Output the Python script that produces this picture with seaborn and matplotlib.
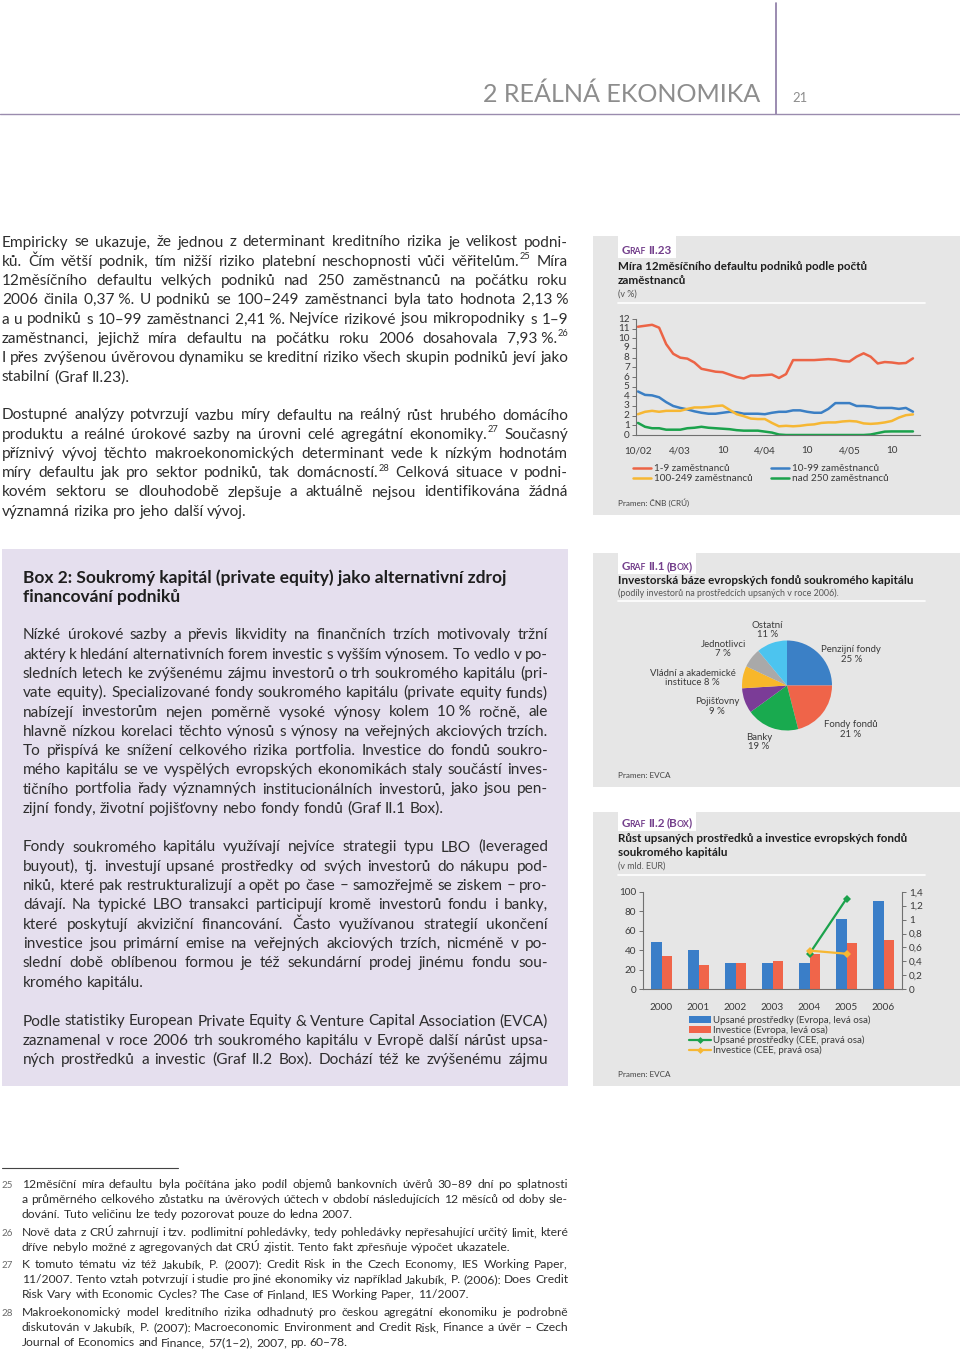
import numpy as np
import pandas as pd
import matplotlib
matplotlib.use("Agg")
import matplotlib.pyplot as plt
import seaborn as sns
from matplotlib.patches import Rectangle, Patch
from matplotlib.lines import Line2D

# ---------------------------------------------------------------- DATA
line_series = ["1-9 zaměstnanců", "10-99 zaměstnanců",
               "100-249 zaměstnanců", "nad 250 zaměstnanců"]
default_1_9 = [11.2, 11.3, 11.4, 11.1, 9.4, 8.4, 8.0, 7.9, 7.5, 6.85,
               6.7, 6.55, 6.5, 6.25, 6.0, 5.85, 6.15, 6.15, 6.2, 6.25,
               5.9, 6.3, 7.75, 7.75, 7.75, 7.75, 7.8, 7.85, 7.8, 7.65,
               7.6, 8.1, 8.45, 8.1, 7.4, 7.55, 7.5, 7.4, 7.45, 7.93]
default_10_99 = [4.5, 4.15, 4.1, 3.9, 3.4, 3.0, 2.8, 2.65, 2.45, 2.3,
                 2.2, 2.2, 2.3, 2.4, 2.35, 2.2, 2.2, 2.2, 2.15, 2.3,
                 2.4, 2.4, 2.55, 2.55, 2.4, 2.3, 2.3, 2.7, 3.3, 3.3,
                 3.3, 3.0, 3.0, 2.95, 2.8, 2.8, 2.8, 2.7, 2.8, 2.41]
default_100_249 = [2.15, 2.4, 2.5, 2.4, 2.5, 2.5, 2.5, 2.7, 2.85, 2.85,
                   2.9, 3.0, 3.05, 2.6, 2.15, 1.95, 1.7, 1.65, 1.65, 1.25,
                   0.9, 0.95, 0.9, 0.95, 1.05, 1.1, 1.25, 1.3, 1.3, 1.4,
                   1.45, 1.4, 1.2, 1.15, 1.2, 1.3, 1.45, 1.8, 2.05, 2.13]
default_nad_250 = [1.25, 0.85, 0.7, 0.7, 0.55, 0.55, 0.55, 0.7, 0.75, 0.85,
                   0.75, 0.7, 0.65, 0.6, 0.5, 0.45, 0.45, 0.45, 0.35, 0.25,
                   0.05, 0.0, 0.0, 0.0, 0.0, 0.0, 0.0, 0.0, 0.0, 0.0,
                   0.0, 0.0, 0.0, 0.05, 0.2, 0.35, 0.37, 0.37, 0.37, 0.37]
month_tick_pos = [0, 6, 12, 18, 24, 30, 36]
month_tick_labels = ["10/02", "4/03", "10", "4/04", "10", "4/05", "10"]
line_yticks = list(range(0, 13))

pie_labels = ["Penzijní fondy", "Fondy fondů", "Banky", "Pojišťovny",
              "Vládní a akademické\ninstituce", "Jednotlivci", "Ostatní"]
pie_values = [25, 21, 19, 9, 8, 7, 11]

bar_years = ["2000", "2001", "2002", "2003", "2004", "2005", "2006"]
bar_series = ["Upsané prostředky (Evropa, levá osa)", "Investice (Evropa, levá osa)"]
eu_raised = [48, 40, 27.3, 26.6, 27.3, 72, 90]
eu_invest = [34.5, 24.6, 27.3, 29.4, 36.2, 47, 50.5]
cee_series = ["Upsané prostředky (CEE, pravá osa)", "Investice (CEE, pravá osa)"]
cee_years = ["2004", "2005"]
cee_raised = [0.51, 1.30]
cee_invest = [0.555, 0.51]
bar_left_ticks = [0, 20, 40, 60, 80, 100]
bar_right_ticks = [0, 0.2, 0.4, 0.6, 0.8, 1.0, 1.2, 1.4]

# ---------------------------------------------------------------- TEXT
para1 = [
    "Empiricky se ukazuje, že jednou z determinant kreditního rizika je velikost podni-",
    "ků. Čím větší podnik, tím nižší riziko platební neschopnosti vůči věřitelům.^25 Míra",
    "12měsíčního defaultu velkých podniků nad 250 zaměstnanců na počátku roku",
    "2006 činila 0,37\u00a0%. U podniků se 100–249 zaměstnanci byla tato hodnota 2,13\u00a0%",
    "a u podniků s 10–99 zaměstnanci 2,41\u00a0%. Nejvíce rizikové jsou mikropodniky s 1–9",
    "zaměstnanci, jejichž míra defaultu na počátku roku 2006 dosahovala 7,93\u00a0%.^26",
    "I přes zvýšenou úvěrovou dynamiku se kreditní riziko všech skupin podniků jeví jako",
    "stabilní (Graf II.23).",
]
para2 = [
    "Dostupné analýzy potvrzují vazbu míry defaultu na reálný růst hrubého domácího",
    "produktu a reálné úrokové sazby na úrovni celé agregátní ekonomiky.^27 Současný",
    "příznivý vývoj těchto makroekonomických determinant vede k nízkým hodnotám",
    "míry defaultu jak pro sektor podniků, tak domácností.^28 Celková situace v podni-",
    "kovém sektoru se dlouhodobě zlepšuje a aktuálně nejsou identifikována žádná",
    "významná rizika pro jeho další vývoj.",
]
box_title = ["Box 2: Soukromý kapitál (private equity) jako alternativní zdroj",
             "financování podniků"]
box_p1 = [
    "Nízké úrokové sazby a převis likvidity na finančních trzích motivovaly tržní",
    "aktéry k hledání alternativních forem investic s vyšším výnosem. To vedlo v po-",
    "sledních letech ke zvýšenému zájmu investorů o trh soukromého kapitálu (pri-",
    "vate equity). Specializované fondy soukromého kapitálu (private equity funds)",
    "nabízejí investorům nejen poměrně vysoké výnosy kolem 10\u00a0% ročně, ale",
    "hlavně nízkou korelaci těchto výnosů s výnosy na veřejných akciových trzích.",
    "To přispívá ke snížení celkového rizika portfolia. Investice do fondů soukro-",
    "mého kapitálu se ve vyspělých evropských ekonomikách staly součástí inves-",
    "tičního portfolia řady významných institucionálních investorů, jako jsou pen-",
    "zijní fondy, životní pojišťovny nebo fondy fondů (Graf II.1 Box).",
]
box_p2 = [
    "Fondy soukromého kapitálu využívají nejvíce strategii typu LBO (leveraged",
    "buyout), tj. investují upsané prostředky od svých investorů do nákupu pod-",
    "niků, které pak restrukturalizují a opět po čase – samozřejmě se ziskem – pro-",
    "dávají. Na typické LBO transakci participují kromě investorů fondu i banky,",
    "které poskytují akviziční financování. Často využívanou strategií ukončení",
    "investice jsou primární emise na veřejných akciových trzích, nicméně v po-",
    "slední době oblíbenou formou je též sekundární prodej jinému fondu sou-",
    "kromého kapitálu.",
]
box_p3 = [
    "Podle statistiky European Private Equity & Venture Capital Association (EVCA)",
    "zaznamenal v roce 2006 trh soukromého kapitálu v Evropě další nárůst upsa-",
    "ných prostředků a investic (Graf II.2 Box). Dochází též ke zvýšenému zájmu",
]
footnotes = [
    ("25", ["12měsíční míra defaultu byla počítána jako podíl objemů bankovních úvěrů 30–89 dní po splatnosti",
            "a průměrného celkového zůstatku na úvěrových účtech v období následujících 12 měsíců od doby sle-",
            "dování. Tuto veličinu lze tedy pozorovat pouze do ledna 2007."]),
    ("26", ["Nově data z CRÚ zahrnují i tzv. podlimitní pohledávky, tedy pohledávky nepřesahující určitý limit, které",
            "dříve nebylo možné z agregovaných dat CRÚ zjistit. Tento fakt zpřesňuje výpočet ukazatele."]),
    ("27", ["K tomuto tématu viz též Jakubík, P. (2007): Credit Risk in the Czech Economy, IES Working Paper,",
            "11/2007. Tento vztah potvrzují i studie pro jiné ekonomiky viz například Jakubík, P. (2006): Does Credit",
            "Risk Vary with Economic Cycles? The Case of Finland, IES Working Paper, 11/2007."]),
    ("28", ["Makroekonomický model kreditního rizika odhadnutý pro českou agregátní ekonomiku je podrobně",
            "diskutován v Jakubík, P. (2007): Macroeconomic Environment and Credit Risk, Finance a úvěr – Czech",
            "Journal of Economics and Finance, 57(1–2), 2007, pp. 60–78."]),
]

# ---------------------------------------------------------------- STYLE
sns.set_theme(style="white")
FONT = ["Lato", "DejaVu Sans"]
plt.rcParams["font.family"] = FONT
TEXT = "#2e2e2e"
CHART_TXT = "#3a3a3a"
PANEL = "#e6e6e6"
LAVENDER = "#e5dfee"
PURPLE = "#74408c"
AXC = "#707070"
C_RED, C_BLUE, C_YEL, C_GRN = "#ec6446", "#3b7fc4", "#f6b733", "#1ba24c"
line_palette = dict(zip(line_series, [C_RED, C_BLUE, C_YEL, C_GRN]))
pie_colors = ["#3b80c6", "#ef6449", "#19aa4f", "#7b3c97", "#f8b72a", "#a9a9a9", "#4cc4ef"]
BAR_BLUE, BAR_RED = "#3a7ec8", "#f0654a"

W, H = 960, 1351
fig = plt.figure(figsize=(W / 100, H / 100), dpi=100)
fig.patch.set_facecolor("white")
R = fig.canvas.get_renderer()


def X(px):
    return px / W


def Y(py):
    return 1.0 - py / H


_cache = {}


def measure(s, size, weight="normal"):
    key = (s, round(size, 3), weight)
    if key not in _cache:
        t = fig.text(0, 0, s, fontsize=size, fontweight=weight, family=FONT)
        _cache[key] = t.get_window_extent(R).width
        t.remove()
    return _cache[key]


def split_sup(word):
    if "^" in word:
        b, s = word.split("^")
        return b, s
    return word, ""


def word_width(word, size, weight="normal"):
    b, s = split_sup(word)
    w = measure(b, size, weight) if b else 0.0
    if s:
        w += measure(s, size * 0.6, weight) + 0.5
    return w


def draw_word(word, x, yb, size, color, weight="normal"):
    b, s = split_sup(word)
    if b:
        fig.text(X(x), Y(yb), b, fontsize=size, color=color, fontweight=weight,
                 family=FONT, ha="left", va="baseline")
        x += measure(b, size, weight) + 0.5
    if s:
        fig.text(X(x), Y(yb - size * 100 / 72 * 0.42), s, fontsize=size * 0.6,
                 color=color, fontweight=weight, family=FONT, ha="left", va="baseline")


def space_w(size, weight="normal"):
    return measure("x x", size, weight) - measure("xx", size, weight)


def fit_size(blocks, base=10.0, weight="normal", tight=0.85):
    sp = space_w(base, weight)
    best = 1e9
    for lines, x0, x1, jl in blocks:
        for k, line in enumerate(lines):
            if k == len(lines) - 1 and not jl:
                continue
            words = line.split(" ")
            nat = sum(word_width(w, base, weight) for w in words) + (len(words) - 1) * sp * tight
            best = min(best, (x1 - x0) / nat)
    return base * best


def paragraph(lines, x0, x1, base0, lead, size, color=TEXT, weight="normal", justify_last=False):
    sp = space_w(size, weight)
    for k, line in enumerate(lines):
        yb = base0 + k * lead
        words = line.split(" ")
        ws = [word_width(w, size, weight) for w in words]
        just = (k < len(lines) - 1 or justify_last) and len(words) > 1
        gap = (x1 - x0 - sum(ws)) / (len(words) - 1) if just else sp
        x = x0
        for w, wd in zip(words, ws):
            draw_word(w, x, yb, size, color, weight)
            x += wd + gap


def fit_text_size(s, x0, x1, weight="normal", base=10.0):
    return base * (x1 - x0) / measure(s, base, weight)


def put(s, x, yb, size, color=CHART_TXT, weight="normal", ha="left"):
    fig.text(X(x), Y(yb), s, fontsize=size, color=color, fontweight=weight,
             family=FONT, ha=ha, va="baseline")


def rect(x0, y0, x1, y1, color, z=-10):
    fig.add_artist(Rectangle((X(x0), Y(y1)), (x1 - x0) / W, (y1 - y0) / H,
                             transform=fig.transFigure, facecolor=color,
                             edgecolor="none", zorder=z))


def hline(x0, x1, y, color, lw=1.0, z=-5):
    fig.add_artist(Line2D([X(x0), X(x1)], [Y(y), Y(y)], transform=fig.transFigure,
                          color=color, lw=lw, zorder=z))


def vline(x, y0, y1, color, lw=1.0, z=-5):
    fig.add_artist(Line2D([X(x), X(x)], [Y(y0), Y(y1)], transform=fig.transFigure,
                          color=color, lw=lw, zorder=z))


def graf_label(runs, x, yb, box_top, box_bottom):
    big, small = 8.4, 6.2
    x_start = x
    for r in runs:
        if isinstance(r, (int, float)):
            x += r
            continue
        s, kind = r
        sz = big if kind == "b" else small
        put(s, x, yb, sz, color=PURPLE, weight="bold")
        x += measure(s, sz, "bold") - 0.8
    rect(x_start - 4, box_top, x + 5, box_bottom, "white", z=-8)


# ---------------------------------------------------------------- HEADER
hs = fit_text_size("2 REÁLNÁ EKONOMIKA", 482.7, 758.3)
put("2 REÁLNÁ EKONOMIKA", 482.7, 102, hs, color="#8d8d8d")
put("21", 792, 102, hs * 0.52, color="#8d8d8d")
vline(775.5, 3, 113.5, "#8a78a3", lw=1.2)
hline(0, 960, 113.5, "#9a8cae", lw=1.0)

# ---------------------------------------------------------------- LEFT TEXT
body_size = fit_size([(para1, 2, 568, False), (para2, 2, 568, False),
                      (box_p1, 23, 548, False), (box_p2, 23, 548, False),
                      (box_p3, 23, 548, True)])
paragraph(para1, 2, 568, 246.5, 19.25, body_size)
paragraph(para2, 2, 568, 419.5, 19.25, body_size)

# box
rect(2, 549, 568, 1086, LAVENDER)
ts = fit_text_size(box_title[0], 23, 508, weight="bold")
put(box_title[0], 23, 583, ts, color="#1e1e1e", weight="bold")
put(box_title[1], 23, 602, ts, color="#1e1e1e", weight="bold")
paragraph(box_p1, 23, 548, 639.5, 19.25, body_size)
paragraph(box_p2, 23, 548, 851.5, 19.3, body_size)
paragraph(box_p3, 23, 548, 1025.5, 19.3, body_size, justify_last=True)

# footnotes
hline(2, 178, 1168, "#444444", lw=0.8)
fn_blocks = [(lines, 22, 568, False) for _, lines in footnotes]
fn_size = fit_size(fn_blocks, tight=0.9)
fn_base = [1188, 1236, 1268, 1316]
for (num, lines), b in zip(footnotes, fn_base):
    put(num, 2, b, fn_size * 0.8, color="#6a6a6a")
    paragraph(lines, 22, 568, b, 15, fn_size)

# ---------------------------------------------------------------- PANELS
rect(593, 236, 960, 515, PANEL)
rect(593, 553, 960, 787, PANEL)
rect(593, 812, 960, 1086, PANEL)

title_size = np.mean([
    fit_text_size("Míra 12měsíčního defaultu podniků podle počtů", 618, 867.7, "bold"),
    fit_text_size("Investorská báze evropských fondů soukromého kapitálu", 618, 915.7, "bold"),
    fit_text_size("Růst upsaných prostředků a investice evropských fondů", 618, 907.7, "bold"),
])
small_size = fit_text_size("(podíly investorů na prostředcích upsaných v roce 2006).", 618, 840)
src_size = fit_text_size("Pramen: EVCA", 618, 670.7)
TICK = 7.2

# ---- panel 1 (line chart)
graf_label([("G", "b"), ("RAF", "s"), 3.0, ("II.23", "b")], 622, 254.5, 236, 258)
put("Míra 12měsíčního defaultu podniků podle počtů", 618, 270.5, title_size, color="#1e1e1e", weight="bold")
put("zaměstnanců", 618, 284.5, title_size, color="#1e1e1e", weight="bold")
put("(v %)", 618, 297, small_size, color="#555555")
hline(618, 925, 302.5, "white", lw=1.2)

ax1 = fig.add_axes([X(636), Y(435), (920 - 636) / W, (435 - 319) / H])
ax1.set_facecolor("none")
n_months = len(default_1_9)
dfl = pd.DataFrame({
    "month": list(range(n_months)) * 4,
    "value": default_1_9 + default_10_99 + default_100_249 + default_nad_250,
    "series": sum([[s] * n_months for s in line_series], []),
})
sns.lineplot(data=dfl, x="month", y="value", hue="series", hue_order=line_series,
             palette=line_palette, linewidth=1.8, legend=False, ax=ax1)
ax1.set_xlim(-0.28, 40.0)
ax1.set_ylim(0, 12)
ax1.set_yticks(line_yticks)
ax1.set_yticklabels([str(v) for v in line_yticks])
ax1.set_xticks(month_tick_pos)
ax1.set_xticklabels(month_tick_labels)
ax1.set_xlabel("")
ax1.set_ylabel("")
ax1.tick_params(axis="y", left=True, length=3, width=0.7, color=AXC, pad=1.5,
                labelsize=TICK, labelcolor=CHART_TXT)
ax1.tick_params(axis="x", bottom=False, length=0, pad=8, labelsize=TICK, labelcolor=CHART_TXT)
for sp in ["top", "right"]:
    ax1.spines[sp].set_visible(False)
for sp in ["left", "bottom"]:
    ax1.spines[sp].set_color(AXC)
    ax1.spines[sp].set_linewidth(0.8)
for lbl in ax1.get_yticklabels():
    lbl.set_verticalalignment("center")

leg_order = [0, 2, 1, 3]
handles1 = [Line2D([], [], color=line_palette[line_series[i]], lw=1.8) for i in leg_order]
labels1 = [line_series[i] for i in leg_order]
fig.legend(handles1, labels1, loc="upper left", bbox_to_anchor=(X(633), Y(464)),
           bbox_transform=fig.transFigure, ncol=2, frameon=False, fontsize=7.2,
           handlelength=1.8, handletextpad=0.25, columnspacing=1.9, labelspacing=0.1,
           borderpad=0, borderaxespad=0, labelcolor=CHART_TXT)
put("Pramen: ČNB (CRÚ)", 618, 506, src_size, color="#444444")

# ---- panel 2 (pie)
graf_label([("G", "b"), ("RAF", "s"), 3.0, ("II.1", "b"), 3.0, ("(B", "b"), ("OX", "s"), (")", "b")],
           622, 570, 553, 574)
put("Investorská báze evropských fondů soukromého kapitálu", 618, 584, title_size,
    color="#1e1e1e", weight="bold")
put("(podíly investorů na prostředcích upsaných v roce 2006).", 618, 596, small_size, color="#555555")
hline(618, 925, 601.5, "white", lw=1.2)

PR = 45.0
axp = fig.add_axes([X(787 - 110), Y(685.5 + 110), 220 / W, 220 / H])
axp.set_facecolor("none")
wedges, _ = axp.pie(pie_values, colors=pie_colors, startangle=90, counterclock=False,
                    radius=1.0, wedgeprops=dict(linewidth=0))
axp.set_xlim(-110 / PR, 110 / PR)
axp.set_ylim(-110 / PR, 110 / PR)
axp.axis("off")
pie_label_xy = [(1.43, 0.69), (1.42, -0.98), (-0.62, -1.25), (-1.55, -0.47),
                (-2.1, 0.17), (-1.42, 0.81), (-0.43, 1.23)]
for lab, val, (lx, ly) in zip(pie_labels, pie_values, pie_label_xy):
    txt = f"{lab} {val} %" if "\n" in lab else f"{lab}\n{val} %"
    axp.text(lx, ly, txt, ha="center", va="center", multialignment="center",
             fontsize=6.9, color=CHART_TXT, linespacing=1.05)
put("Pramen: EVCA", 618, 778, src_size, color="#444444")

# ---- panel 3 (bars)
graf_label([("G", "b"), ("RAF", "s"), 3.0, ("II.2", "b"), 3.0, ("(B", "b"), ("OX", "s"), (")", "b")],
           622, 826.5, 812, 831)
put("Růst upsaných prostředků a investice evropských fondů", 618, 842, title_size,
    color="#1e1e1e", weight="bold")
put("soukromého kapitálu", 618, 856, title_size, color="#1e1e1e", weight="bold")
put("(v mld. EUR)", 618, 869, small_size, color="#555555")
hline(618, 925, 875, "white", lw=1.2)

axb = fig.add_axes([X(643), Y(989.3), (902 - 643) / W, (989.3 - 891.7) / H])
axb.set_facecolor("none")
dfb = pd.DataFrame({
    "year": bar_years * 2,
    "value": eu_raised + eu_invest,
    "series": [bar_series[0]] * len(bar_years) + [bar_series[1]] * len(bar_years),
})
sns.barplot(data=dfb, x="year", y="value", hue="series", hue_order=bar_series,
            palette=[BAR_BLUE, BAR_RED], width=0.58, saturation=1, errorbar=None,
            linewidth=0, legend=False, ax=axb)
axb.set_xlim(-0.5, 6.5)
axb.set_ylim(0, 100)
axb.set_yticks(bar_left_ticks)
axb.set_xlabel("")
axb.set_ylabel("")
axb.tick_params(axis="y", left=True, length=3, width=0.7, color=AXC, pad=2,
                labelsize=TICK, labelcolor=CHART_TXT)
axb.tick_params(axis="x", bottom=False, length=0, pad=10, labelsize=TICK, labelcolor=CHART_TXT)
for sp in ["top", "right"]:
    axb.spines[sp].set_visible(False)
for sp in ["left", "bottom"]:
    axb.spines[sp].set_color(AXC)
    axb.spines[sp].set_linewidth(0.8)

axb2 = axb.twinx()
axb2.set_facecolor("none")
cee_x = [bar_years.index(y) for y in cee_years]
sns.lineplot(x=cee_x, y=cee_raised, color=C_GRN, marker="D", markersize=4.5,
             markeredgewidth=0, linewidth=1.6, ax=axb2)
sns.lineplot(x=cee_x, y=cee_invest, color=C_YEL, marker="D", markersize=4.5,
             markeredgewidth=0, linewidth=1.6, ax=axb2)
axb2.set_xlim(-0.5, 6.5)
axb2.set_ylim(0, 1.4)
axb2.set_yticks(bar_right_ticks)
axb2.set_yticklabels([f"{v:g}".replace(".", ",") for v in bar_right_ticks])
axb2.set_ylabel("")
axb2.grid(False)
axb2.tick_params(axis="y", right=True, length=3, width=0.7, color=AXC, pad=2,
                 labelsize=TICK, labelcolor=CHART_TXT)
for sp in ["top", "left", "bottom"]:
    axb2.spines[sp].set_visible(False)
axb2.spines["right"].set_color(AXC)
axb2.spines["right"].set_linewidth(0.8)

handles3 = [Patch(facecolor=BAR_BLUE, edgecolor="none"),
            Patch(facecolor=BAR_RED, edgecolor="none"),
            Line2D([], [], color=C_GRN, lw=1.6, marker="D", markersize=3.5, markeredgewidth=0),
            Line2D([], [], color=C_YEL, lw=1.6, marker="D", markersize=3.5, markeredgewidth=0)]
labels3 = bar_series + cee_series
fig.legend(handles3, labels3, loc="upper left", bbox_to_anchor=(X(689), Y(1015.5)),
           bbox_transform=fig.transFigure, ncol=1, frameon=False, fontsize=7.0,
           handlelength=2.3, handleheight=0.7, handletextpad=0.15, labelspacing=0.05,
           borderpad=0, borderaxespad=0, labelcolor=CHART_TXT)
put("Pramen: EVCA", 618, 1077, src_size, color="#444444")

fig.savefig("out.png", dpi=100, facecolor="white")
